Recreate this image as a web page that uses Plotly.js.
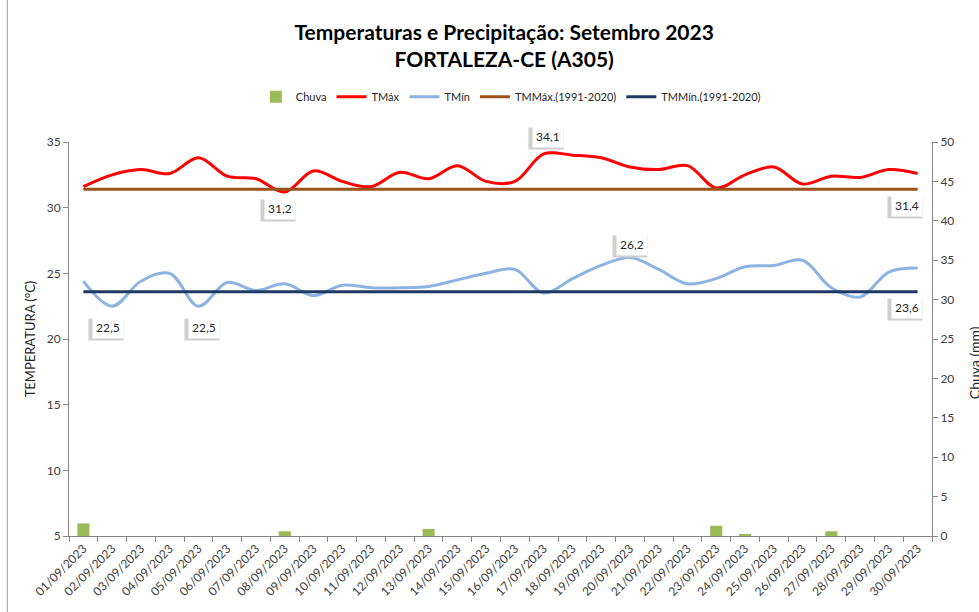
<!DOCTYPE html>
<html>
<head>
<meta charset="utf-8">
<script src="https://cdn.plot.ly/plotly-3.0.1.min.js"></script>
<style>
  html, body { margin: 0; padding: 0; background: #ffffff; }
  #chart { width: 979px; height: 612px; }
</style>
</head>
<body>
<div id="chart"></div>
<script>
const days = ["01/09/2023","02/09/2023","03/09/2023","04/09/2023","05/09/2023","06/09/2023","07/09/2023","08/09/2023","09/09/2023","10/09/2023",
              "11/09/2023","12/09/2023","13/09/2023","14/09/2023","15/09/2023","16/09/2023","17/09/2023","18/09/2023","19/09/2023","20/09/2023",
              "21/09/2023","22/09/2023","23/09/2023","24/09/2023","25/09/2023","26/09/2023","27/09/2023","28/09/2023","29/09/2023","30/09/2023"];
const tmax = [31.6,32.5,32.9,32.6,33.8,32.4,32.2,31.2,32.8,32.0,
              31.6,32.7,32.2,33.2,32.0,32.0,34.1,34.0,33.8,33.1,
              32.9,33.2,31.5,32.5,33.1,31.8,32.4,32.3,32.9,32.6];
const tmin = [24.4,22.5,24.4,25.0,22.5,24.3,23.7,24.2,23.3,24.1,
              23.9,23.9,24.0,24.5,25.0,25.3,23.5,24.6,25.6,26.2,
              25.3,24.2,24.6,25.5,25.6,26.0,23.9,23.2,25.1,25.4];
const chuva = [1.6,0,0,0,0,0,0,0.6,0,0,
               0,0,0.9,0,0,0,0,0,0,0,
               0,0,1.3,0.15,0,0,0.6,0,0,0];
const tmmax = 31.4;
const tmmin = 23.6;

const font = "Lato, 'Open Sans', sans-serif";
const fmt = v => v.toFixed(1).replace('.', ',');

const traces = [
  {type:'bar', name:'Chuva', x:days, y:chuva, yaxis:'y2', marker:{color:'#9BBB59'}, width:0.42},
  {type:'scatter', mode:'lines', name:'TMáx', x:days, y:tmax, line:{color:'#FF0000', width:3, shape:'spline', smoothing:1}},
  {type:'scatter', mode:'lines', name:'TMín', x:days, y:tmin, line:{color:'#8DB3E2', width:3, shape:'spline', smoothing:1}},
  {type:'scatter', mode:'lines', name:'TMMáx.(1991-2020)', x:days, y:days.map(()=>tmmax), line:{color:'#9C5219', width:3}},
  {type:'scatter', mode:'lines', name:'TMMín.(1991-2020)', x:days, y:days.map(()=>tmmin), line:{color:'#1F3864', width:3}}
];

// data labels: [series values, index, xshift, yshift]
const labelSpecs = [
  [tmax, 7, -5, -17],
  [tmax, 16, 4, 17],
  [days.map(()=>tmmax), 29, -11, -16],
  [tmin, 1, -4, -21],
  [tmin, 4, 6, -21],
  [tmin, 19, 2, 13],
  [days.map(()=>tmmin), 29, -11, -16]
];
const annotations = [];
labelSpecs.forEach(([arr, i, xs, ys]) => {
  annotations.push({x:days[i], y:arr[i], xref:'x', yref:'y', text:'\u2007\u2007\u2007\u2007', showarrow:false,
    xshift:xs-2, yshift:ys-2, bgcolor:'#cfcfcf', borderpad:3, font:{family:font, size:12, color:'#cfcfcf'}});
  annotations.push({x:days[i], y:arr[i], xref:'x', yref:'y', text:fmt(arr[i]), showarrow:false,
    xshift:xs, yshift:ys, bgcolor:'#ffffff', borderpad:3, font:{family:font, size:12, color:'#262626'}});
});
annotations.push({x:1.0, xref:'paper', xshift:53, y:0.44, yref:'paper', text:'Chuva (mm)', textangle:-90,
  showarrow:false, font:{family:font, size:14, color:'#262626'}});

const axisCommon = {showgrid:false, zeroline:false, showline:true, linecolor:'#868686', linewidth:1,
  ticks:'outside', ticklen:5, tickcolor:'#868686', tickfont:{family:font, size:12, color:'#404040'}};

const layout = {
  width:979, height:612,
  paper_bgcolor:'#ffffff', plot_bgcolor:'#ffffff',
  margin:{l:69, r:47, t:142, b:76},
  title:{text:'<b>Temperaturas e Precipitação: Setembro 2023</b><br><b>FORTALEZA-CE (A305)</b>',
    x:0.515, xanchor:'center', y:0.935, yanchor:'middle', font:{family:font, size:21, color:'#000000'}},
  showlegend:true,
  legend:{orientation:'h', x:0.512, xanchor:'center', y:1.115, yanchor:'middle',
    font:{family:font, size:11, color:'#262626'}, traceorder:'normal', itemwidth:30},
  xaxis:Object.assign({}, axisCommon, {type:'category', tickson:'boundaries', tickangle:-45,
    tickfont:{family:font, size:12, color:'#404040'}}),
  yaxis:Object.assign({}, axisCommon, {range:[5,35], dtick:5, tick0:5,
    title:{text:'TEMPERATURA (°C)', standoff:8, font:{family:font, size:13, color:'#262626'}}}),
  yaxis2:Object.assign({}, axisCommon, {range:[0,50], dtick:5, overlaying:'y', side:'right'}),
  annotations:annotations,
  shapes:[{type:'line', xref:'paper', yref:'paper', x0:-0.0715, x1:-0.0715, y0:-0.2, y1:1.4,
    line:{color:'#9a9a9a', width:1}}]
};

Plotly.newPlot('chart', traces, layout, {displayModeBar:false});
</script>
</body>
</html>
